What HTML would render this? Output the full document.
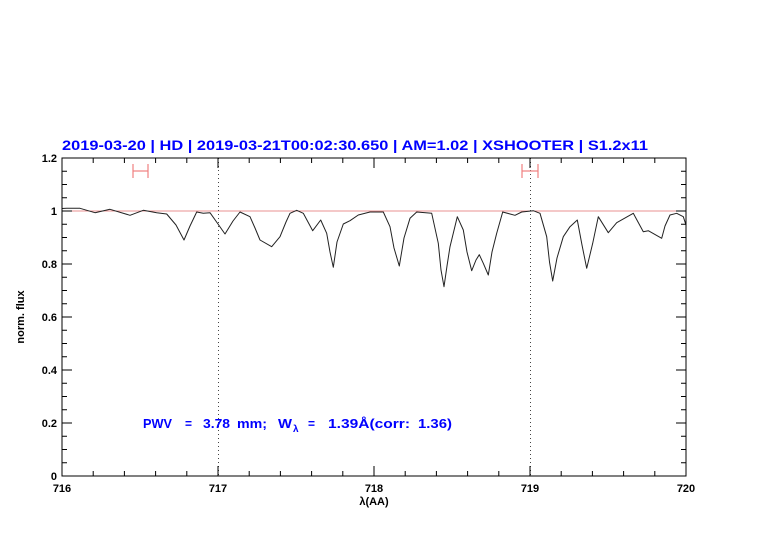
<!DOCTYPE html>
<html><head><meta charset="utf-8"><style>body{margin:0;background:#fff}svg{display:block}</style></head><body>
<svg width="782" height="542" xmlns="http://www.w3.org/2000/svg" font-family="Liberation Sans, sans-serif">
<rect width="782" height="542" fill="#fff"/>
<text x="62" y="150" font-size="13.5" font-weight="bold" fill="#0000ff" textLength="586" lengthAdjust="spacingAndGlyphs">2019-03-20 | HD | 2019-03-21T00:02:30.650 | AM=1.02 | XSHOOTER | S1.2x11</text>
<line x1="62" y1="211" x2="686" y2="211" stroke="#e89090" stroke-width="1"/>
<g stroke="#444" stroke-width="1" stroke-dasharray="1,3">
<line x1="218.5" y1="158" x2="218.5" y2="476"/><line x1="530.5" y1="158" x2="530.5" y2="476"/>
</g>
<g stroke="#f08080" stroke-width="1.2">
<line x1="133" y1="171" x2="148" y2="171"/><line x1="133" y1="164" x2="133" y2="178"/><line x1="148" y1="164" x2="148" y2="178"/>
<line x1="522" y1="171" x2="538" y2="171"/><line x1="522" y1="164" x2="522" y2="178"/><line x1="538" y1="164" x2="538" y2="178"/>
</g>
<polyline fill="none" stroke="#222" stroke-width="1" stroke-linejoin="round" points="62,208.5 66.7,208.3 80,208.3 95,212.7 110,209.3 130,215.3 143.3,210.3 156.7,212.7 166.7,214 176,225 184,240 190,226 196.7,212 203.3,213.3 210,212.7 218,224 225,234 233,221 240,212 250,216.7 255,228 260,240 271.7,246.7 280,236.7 286,222 290,213.3 296.7,210.3 303.3,213.3 312.7,230.7 320.7,220 326.7,233.3 330,252 333.3,267.3 337,242 343.3,224 350,220.7 358.3,215 370,212 383.3,212 390,226.7 394,248 399.3,266 404,238 410,218.3 416.7,212 431.7,213.3 438.3,243.3 441,270 444,286.7 447,266 450,246.7 457.3,216.7 463.3,230 467,252 471.7,270.7 476,260 479.3,254.7 483.3,263.3 488.3,275 492,252 496.7,233.3 502.7,212 515,215.3 521.7,212 533.3,210.7 540,213.3 546.7,236.7 549.5,262 552.7,281 557,258 563.3,236.7 570,226.7 577.3,220 582,245 586.7,268.3 592.7,243.3 598.3,216.7 608.3,232.7 616.7,222.7 633.3,213.3 643.3,231.7 648.3,230.7 661.7,238.3 665,226 670,215 676.7,213.3 683.3,216.7 686,225"/>
<rect x="62" y="158" width="624" height="318" fill="none" stroke="#000" stroke-width="1"/>
<g stroke="#000" stroke-width="1">
<path d="M93.2,476v-5M124.4,476v-5M155.6,476v-5M186.8,476v-5M249.2,476v-5M280.4,476v-5M311.6,476v-5M342.8,476v-5M405.2,476v-5M436.4,476v-5M467.6,476v-5M498.8,476v-5M561.2,476v-5M592.4,476v-5M623.6,476v-5M654.8,476v-5M218,476v-10M374,476v-10M530,476v-10
M93.2,158v5M124.4,158v5M155.6,158v5M186.8,158v5M249.2,158v5M280.4,158v5M311.6,158v5M342.8,158v5M405.2,158v5M436.4,158v5M467.6,158v5M498.8,158v5M561.2,158v5M592.4,158v5M623.6,158v5M654.8,158v5M218,158v10M374,158v10M530,158v10"/>
<path d="M62,462.75h5M62,449.5h5M62,436.25h5M62,409.75h5M62,396.5h5M62,383.25h5M62,356.75h5M62,343.5h5M62,330.25h5M62,303.75h5M62,290.5h5M62,277.25h5M62,250.75h5M62,237.5h5M62,224.25h5M62,197.75h5M62,184.5h5M62,171.25h5M62,423h10M62,370h10M62,317h10M62,264h10M62,211h10
M686,462.75h-5M686,449.5h-5M686,436.25h-5M686,409.75h-5M686,396.5h-5M686,383.25h-5M686,356.75h-5M686,343.5h-5M686,330.25h-5M686,303.75h-5M686,290.5h-5M686,277.25h-5M686,250.75h-5M686,237.5h-5M686,224.25h-5M686,197.75h-5M686,184.5h-5M686,171.25h-5M686,423h-10M686,370h-10M686,317h-10M686,264h-10M686,211h-10"/>
</g>
<g font-size="11" font-weight="bold" fill="#000" text-anchor="end">
<text x="57" y="480">0</text><text x="57" y="427">0.2</text><text x="57" y="374">0.4</text><text x="57" y="321">0.6</text><text x="57" y="268">0.8</text><text x="57" y="215">1</text><text x="57" y="162">1.2</text>
</g>
<g font-size="11" font-weight="bold" fill="#000" text-anchor="middle">
<text x="62" y="492">716</text><text x="218" y="492">717</text><text x="374" y="492">718</text><text x="530" y="492">719</text><text x="686" y="492">720</text>
<text x="374" y="505">λ(AA)</text>
<text transform="translate(24,317) rotate(-90)">norm. flux</text>
</g>
<g font-size="13" font-weight="bold" fill="#0000ff">
<text x="143" y="428" textLength="29" lengthAdjust="spacingAndGlyphs">PWV</text>
<text x="185" y="428" textLength="7" lengthAdjust="spacingAndGlyphs">=</text>
<text x="203" y="428" textLength="27" lengthAdjust="spacingAndGlyphs">3.78</text>
<text x="237" y="428" textLength="30" lengthAdjust="spacingAndGlyphs">mm;</text>
<text x="278" y="428" textLength="14" lengthAdjust="spacingAndGlyphs">W</text>
<text x="293" y="432" font-size="10">λ</text>
<text x="308" y="428" textLength="7" lengthAdjust="spacingAndGlyphs">=</text>
<text x="328" y="428" textLength="82" lengthAdjust="spacingAndGlyphs">1.39Å(corr:</text>
<text x="418" y="428" textLength="34" lengthAdjust="spacingAndGlyphs">1.36)</text>
</g>
</svg>
</body></html>
